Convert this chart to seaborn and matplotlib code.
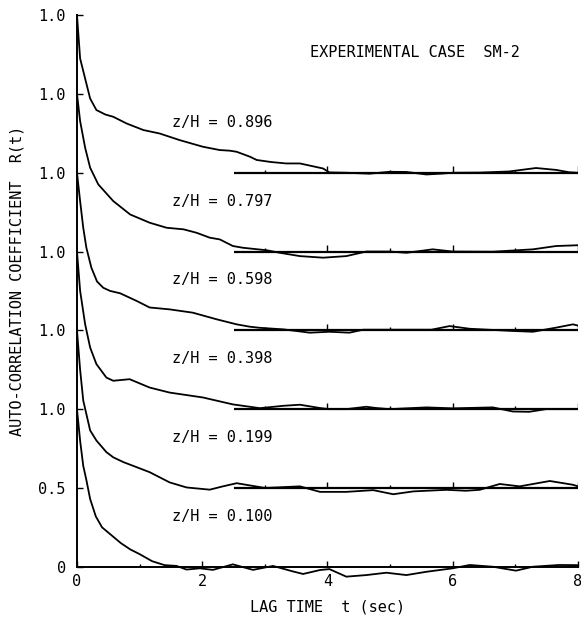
import numpy as np
import pandas as pd
import matplotlib
matplotlib.use("Agg")
import matplotlib.pyplot as plt
import seaborn as sns

# z/H levels, top curve first, and each curve's offset on the stacked axis
levels = ["0.896", "0.797", "0.598", "0.398", "0.199", "0.100"]
offsets = [2.5, 2.0, 1.5, 1.0, 0.5, 0.0]

t_896 = [0, 0.05, 0.13, 0.21, 0.31, 0.45, 0.58, 0.79, 1.06, 1.32, 1.64, 2.01, 2.28, 2.44, 2.55, 2.76,
         2.87, 3.1, 3.34, 3.56, 3.93, 4.03, 4.3, 4.67, 4.99, 5.26, 5.58, 5.84, 6.0, 6.43, 6.9, 7.33,
         7.65, 7.86, 8.0]
r_896 = [1.0, 0.725, 0.598, 0.471, 0.398, 0.37, 0.355, 0.313, 0.271, 0.249, 0.207, 0.165, 0.144, 0.14,
         0.133, 0.102, 0.081, 0.068, 0.059, 0.059, 0.027, 0.002, 0.0, -0.006, 0.006, 0.005, -0.011,
         -0.005, 0.0, 0.001, 0.008, 0.03, 0.018, 0.003, 0.0]

t_797 = [0, 0.05, 0.13, 0.21, 0.34, 0.58, 0.85, 1.16, 1.43, 1.7, 1.91, 2.12, 2.28, 2.49, 2.65, 3.03,
         3.24, 3.56, 3.93, 4.3, 4.62, 4.99, 5.26, 5.68, 6.0, 6.64, 7.28, 7.65, 8.0]
r_797 = [1.0, 0.828, 0.659, 0.532, 0.426, 0.32, 0.235, 0.183, 0.151, 0.141, 0.119, 0.088, 0.077, 0.035,
         0.024, 0.008, -0.008, -0.029, -0.039, -0.029, 0.0, 0.0, -0.008, 0.014, 0.0, -0.001, 0.014,
         0.035, 0.04]

t_598 = [0, 0.05, 0.1, 0.15, 0.23, 0.32, 0.42, 0.53, 0.69, 0.95, 1.16, 1.48, 1.85, 2.23, 2.55, 2.76,
         2.92, 3.3, 3.72, 4.03, 4.35, 4.57, 5.1, 5.66, 5.95, 6.27, 6.96, 7.28, 7.65, 7.92, 8.0]
r_598 = [1.0, 0.82, 0.651, 0.524, 0.397, 0.31, 0.27, 0.25, 0.235, 0.187, 0.145, 0.133, 0.112, 0.07,
         0.038, 0.023, 0.016, 0.006, -0.015, -0.009, -0.015, 0.004, 0.004, 0.004, 0.027, 0.01,
         -0.004, -0.009, 0.017, 0.038, 0.03]

t_398 = [0, 0.05, 0.13, 0.21, 0.31, 0.47, 0.58, 0.84, 1.16, 1.48, 2.01, 2.49, 2.76, 2.92, 3.29, 3.56,
         3.88, 4.03, 4.3, 4.62, 4.78, 4.99, 5.58, 6.0, 6.64, 6.96, 7.22, 7.49, 8.0]
r_398 = [1.0, 0.751, 0.539, 0.391, 0.286, 0.2, 0.18, 0.19, 0.137, 0.105, 0.074, 0.03, 0.015, 0.006,
         0.021, 0.028, 0.007, 0.0, 0.0, 0.015, 0.007, 0.0, 0.011, 0.005, 0.011, -0.015, -0.017, 0.0, 0.0]

t_199 = [0, 0.05, 0.1, 0.21, 0.31, 0.47, 0.58, 0.74, 0.95, 1.16, 1.48, 1.75, 2.12, 2.33, 2.55, 2.76,
         3.0, 3.24, 3.56, 3.88, 4.3, 4.73, 5.05, 5.37, 5.9, 6.21, 6.43, 6.75, 7.07, 7.55, 7.92, 8.0]
r_199 = [1.0, 0.75, 0.555, 0.365, 0.301, 0.227, 0.194, 0.164, 0.132, 0.1, 0.035, 0.003, -0.011, 0.01,
         0.03, 0.016, 0.0, 0.004, 0.01, -0.025, -0.025, -0.014, -0.04, -0.022, -0.012, -0.018,
         -0.012, 0.025, 0.01, 0.044, 0.02, 0.01]

t_100 = [0, 0.05, 0.1, 0.15, 0.21, 0.3, 0.4, 0.55, 0.7, 0.85, 1.0, 1.2, 1.4, 1.59, 1.75, 1.96, 2.17,
         2.49, 2.81, 3.13, 3.45, 3.61, 3.88, 4.03, 4.3, 4.62, 4.94, 5.26, 5.58, 6.0, 6.27, 6.64, 7.01,
         7.28, 7.7, 8.0]
r_100 = [1.0, 0.8, 0.64, 0.55, 0.43, 0.32, 0.25, 0.2, 0.15, 0.11, 0.08, 0.035, 0.01, 0.005, -0.018,
         -0.01, -0.02, 0.015, -0.02, 0.005, -0.03, -0.046, -0.021, -0.015, -0.063, -0.053, -0.038,
         -0.053, -0.032, -0.01, 0.011, 0.0, -0.025, 0.0, 0.011, 0.01]

times = [t_896, t_797, t_598, t_398, t_199, t_100]
coefs = [r_896, r_797, r_598, r_398, r_199, r_100]

yticks = [0, 0.5, 1.0, 1.5, 2.0, 2.5, 3.0, 3.5]
ytick_labels = ["0", "0.5", "1.0", "1.0", "1.0", "1.0", "1.0", "1.0"]
xticks = [0, 2, 4, 6, 8]
xticks_minor = [1, 3, 5, 7]
baseline_ticks = [3, 4, 5, 6, 7, 8]

rows = []
for lev, off, tt, rr in zip(levels, offsets, times, coefs):
    for a, b in zip(tt, rr):
        rows.append({"t": a, "y": b + off, "zH": lev})
df = pd.DataFrame(rows)

sns.set_style("ticks")
plt.rcParams["font.family"] = ["DejaVu Sans Mono", "DejaVu Sans"]
plt.rcParams["font.size"] = 11
for key in ["text.color", "axes.labelcolor", "xtick.color", "ytick.color", "axes.edgecolor"]:
    plt.rcParams[key] = "black"

fig = plt.figure(figsize=(5.81, 6.27), dpi=100)
ax = fig.add_axes([0.1325, 0.071, 0.8623, 0.9174])

sns.lineplot(data=df, x="t", y="y", hue="zH", hue_order=levels, palette=["black"] * 6,
             estimator=None, sort=False, legend=False, linewidth=1.3, ax=ax)

# zero lines of the stacked curves, with small tick marks
for off in offsets[:-1]:
    ax.hlines(off, 2.5, 8.0, color="black", linewidth=1.6)
    for bt in baseline_ticks:
        h = 0.04 if bt % 2 == 0 else 0.02
        ax.vlines(bt, off, off + h, color="black", linewidth=1.0)

for lev, off in zip(levels, offsets):
    ax.text(1.52, off + 0.32, f"z/H = {lev}", fontsize=11, va="center", ha="left")

ax.text(5.4, 3.26, "EXPERIMENTAL CASE  SM-2", fontsize=11, va="center", ha="center")

ax.set_xlim(0, 8)
ax.set_ylim(-0.1, 3.55)
ax.spines["top"].set_visible(False)
ax.spines["right"].set_visible(False)
ax.spines["bottom"].set_position(("data", 0))
ax.spines["left"].set_bounds(0, 3.5)
for s in ["left", "bottom"]:
    ax.spines[s].set_linewidth(1.4)

ax.set_xticks(xticks)
ax.set_xticks(xticks_minor, minor=True)
ax.set_yticks(yticks, labels=ytick_labels)
ax.tick_params(axis="both", direction="in", length=4.5, width=1.0, labelsize=11, color="black")
ax.tick_params(axis="x", which="minor", direction="in", length=2.5, width=1.0)
ax.tick_params(axis="y", pad=8)
ax.tick_params(axis="x", pad=5)

ax.set_xlabel("LAG TIME  t (sec)", fontsize=11, labelpad=8)
ax.set_ylabel("AUTO-CORRELATION COEFFICIENT  R(t)", fontsize=11)
ax.yaxis.set_label_coords(-0.105, 0.525)
ax.grid(False)

fig.savefig("out.png", dpi=100)
